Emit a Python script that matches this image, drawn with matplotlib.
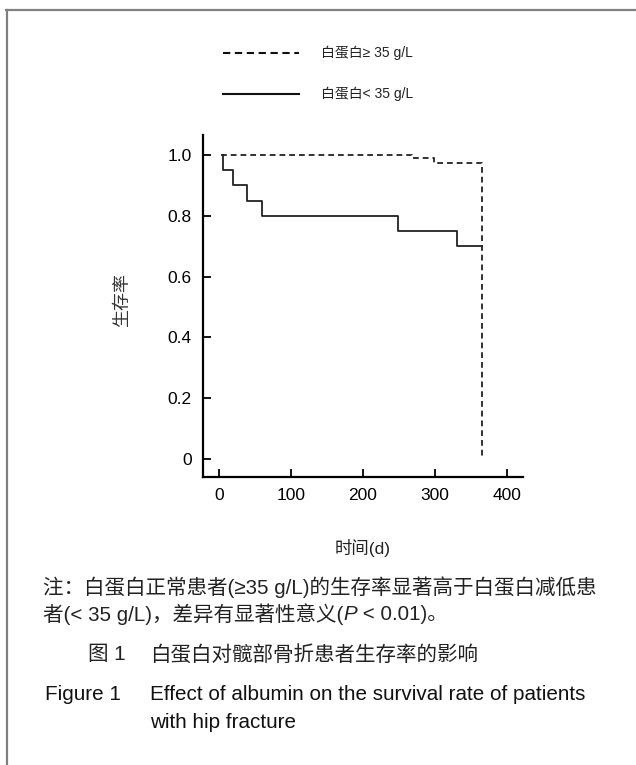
import numpy as np
import matplotlib
matplotlib.use('Agg')
import matplotlib.pyplot as plt
from matplotlib.lines import Line2D

plt.rcParams['font.family'] = ['Liberation Sans', 'Noto Sans CJK SC', 'DejaVu Sans']

# данные: кривые выживаемости (дни, доля)
high_days = [3, 268, 299, 365]
high_surv = [1.0, 0.989, 0.975, 0.0]
low_days = [6, 6, 19, 39, 60, 249, 330, 365]
low_surv = [1.0, 0.95, 0.90, 0.85, 0.80, 0.75, 0.70, 0.70]

legend_labels = ['白蛋白≥ 35 g/L', '白蛋白< 35 g/L']
xticks = [0, 100, 200, 300, 400]
yticks = [0, 0.2, 0.4, 0.6, 0.8, 1.0]
ytick_labels = ['0', '0.2', '0.4', '0.6', '0.8', '1.0']

W, H = 636, 765
fig = plt.figure(figsize=(W / 100, H / 100), dpi=100)
renderer = fig.canvas.get_renderer()


def fx(px):
    return px / W


def fy(py):
    return 1 - py / H


# текст из кусков (курсив для P)
def put_parts(x, y, parts, **kw):
    for s, style in parts:
        t = fig.text(fx(x), fy(y), s, style=style, **kw)
        x += t.get_window_extent(renderer).width


ax = fig.add_axes([fx(203), fy(477), fx(523) - fx(203), fy(135) - fy(477)])

ax.step(high_days, high_surv, where='post', color='#222222', lw=1.3, dashes=(3.2, 2.2))
ax.step(low_days, low_surv, where='post', color='#222222', lw=1.3)

ax.set_xlim(-22, 422)
ax.set_ylim(-0.059, 1.066)
ax.set_xticks(xticks)
ax.set_yticks(yticks)
ax.set_yticklabels(ytick_labels)
for s in ['top', 'right']:
    ax.spines[s].set_visible(False)
for s in ['left', 'bottom']:
    ax.spines[s].set_linewidth(1.6)
ax.tick_params(direction='in', length=6, width=1.3, labelsize=12.5, pad=8)

# легенда сверху (вручную)
styles = [dict(dashes=(3.5, 2.2)), dict()]
for lab, st, y in zip(legend_labels, styles, [53, 94]):
    fig.add_artist(Line2D([fx(223), fx(299)], [fy(y), fy(y)], color='#111111', lw=1.5, **st))
    fig.text(fx(321), fy(y), lab, fontsize=10, va='center', ha='left', color='#222222')

fig.text(fx(123), fy(300), '生存率', rotation=90, fontsize=13, va='center', ha='center', color='#333333')
fig.text(fx(363), fy(548), '时间(d)', fontsize=12.5, va='center', ha='center', color='#222222')

txt = dict(fontsize=14.8, va='center', ha='left', color='#222222')
fig.text(fx(43), fy(587), '注：白蛋白正常患者(≥35 g/L)的生存率显著高于白蛋白减低患', **txt)
put_parts(43, 614, [('者(< 35 g/L)，差异有显著性意义(', 'normal'), ('P', 'italic'),
                    (' < 0.01)。', 'normal')], **txt)

fig.text(fx(88), fy(655), '图 1', **txt)
fig.text(fx(150), fy(655), '白蛋白对髋部骨折患者生存率的影响', **txt)
eng = dict(fontsize=14.9, va='center', ha='left', color='#111111')
fig.text(fx(45), fy(695), 'Figure 1', **eng)
fig.text(fx(150), fy(695), 'Effect of albumin on the survival rate of patients', **eng)
fig.text(fx(150), fy(723), 'with hip fracture', **eng)

# рамка
fig.add_artist(Line2D([fx(6), 1], [fy(10), fy(10)], color='#808080', lw=1.6))
fig.add_artist(Line2D([fx(7), fx(7)], [fy(10), 0], color='#808080', lw=1.6))

fig.savefig('out.png', dpi=100)
